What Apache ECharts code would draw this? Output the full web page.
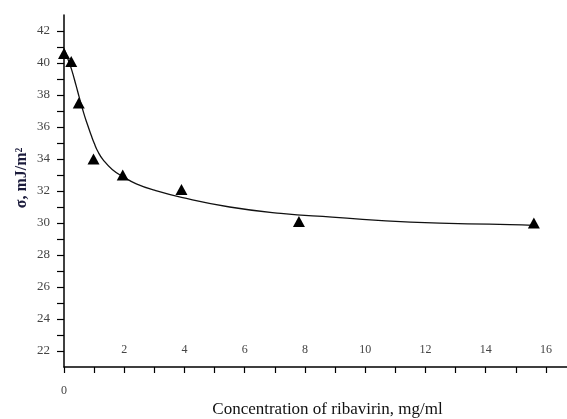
<!DOCTYPE html>
<html>
<head>
<meta charset="utf-8">
<script src="https://cdn.jsdelivr.net/npm/echarts@6/dist/echarts.min.js"></script>
<style>
html, body { margin: 0; padding: 0; background: #fff; }
#chart { width: 567px; height: 419px; }
</style>
</head>
<body>
<div id="chart"></div>
<script>
// measured points (ribavirin concentration, mg/ml -> surface tension)
var concentrations = [0, 0.24, 0.49, 0.98, 1.95, 3.9, 7.8, 15.6];
var sigmaValues = [40.6, 40.1, 37.5, 34.0, 33.0, 32.1, 30.1, 30.0];

// fitted curve
var curveX = [0, 0.12, 0.25, 0.4, 0.5, 0.65, 0.77, 0.9, 1.0, 1.13, 1.3, 1.6, 2.0, 2.4, 3.0, 3.9, 5.5, 7.2, 8.9, 11.5, 14.8, 15.6];
var curveY = [40.9, 40.3, 39.6, 38.6, 37.9, 36.9, 36.2, 35.5, 35.0, 34.45, 33.95, 33.35, 32.85, 32.45, 32.05, 31.6, 31.0, 30.6, 30.37, 30.05, 29.9, 29.85];

var serif = 'Liberation Serif, Times New Roman, serif';

var myChart = echarts.init(document.getElementById('chart'));

var option = {
    animation: false,
    grid: { left: 64, right: 0, top: 15, bottom: 52, containLabel: false, outerBoundsMode: 'none' },
    xAxis: [
        {
            type: 'value',
            min: 0, max: 16.7, interval: 1,
            name: 'Concentration of ribavirin, mg/ml',
            nameLocation: 'middle',
            nameGap: 34,
            nameMoveOverlap: false,
            nameTextStyle: { fontFamily: serif, fontSize: 17, color: '#111', padding: [0, 0, 0, 24] },
            axisLine: { lineStyle: { color: '#000', width: 1.5 } },
            axisTick: { inside: false, length: 6, lineStyle: { color: '#000', width: 1.2 } },
            axisLabel: {
                inside: true, margin: 11,
                fontFamily: serif, fontSize: 12, color: '#444',
                showMaxLabel: false,
                formatter: function (v) { return (v > 0 && v % 2 === 0) ? String(v) : ''; }
            },
            splitLine: { show: false }
        },
        {
            type: 'value', position: 'bottom',
            min: 0, max: 16.7, interval: 1,
            axisLine: { show: false },
            axisTick: { show: false },
            axisLabel: {
                margin: 18, fontFamily: serif, fontSize: 12, color: '#444',
                formatter: function (v) { return v === 0 ? '0' : ''; }
            },
            splitLine: { show: false }
        }
    ],
    yAxis: {
        type: 'value',
        min: 21, max: 43, interval: 1,
        name: 'σ, mJ/m²',
        nameLocation: 'middle',
        nameGap: 34,
        nameMoveOverlap: false,
        nameTextStyle: { fontFamily: serif, fontSize: 16, fontWeight: 'bold', color: '#1c1c3c', padding: [0, 0, 0, 26] },
        axisLine: { show: true, lineStyle: { color: '#000', width: 1.5 } },
        axisTick: { length: 7, lineStyle: { color: '#000', width: 1.2 } },
        axisLabel: {
            margin: 14, fontFamily: serif, fontSize: 13, color: '#444',
            showMinLabel: false, showMaxLabel: false,
            formatter: function (v) { return v % 2 === 0 ? String(v) : ''; }
        },
        splitLine: { show: false }
    },
    series: [
        {
            type: 'line',
            data: curveX.map(function (x, i) { return [x, curveY[i]]; }),
            smooth: 0.5,
            showSymbol: false,
            lineStyle: { color: '#111', width: 1.3 },
            z: 2
        },
        {
            type: 'scatter',
            data: concentrations.map(function (x, i) { return [x, sigmaValues[i]]; }),
            symbol: 'triangle',
            symbolSize: [12, 11],
            itemStyle: { color: '#000', opacity: 1 },
            z: 3
        }
    ]
};

myChart.setOption(option);
window.addEventListener('resize', function () { myChart.resize(); });
</script>
</body>
</html>
